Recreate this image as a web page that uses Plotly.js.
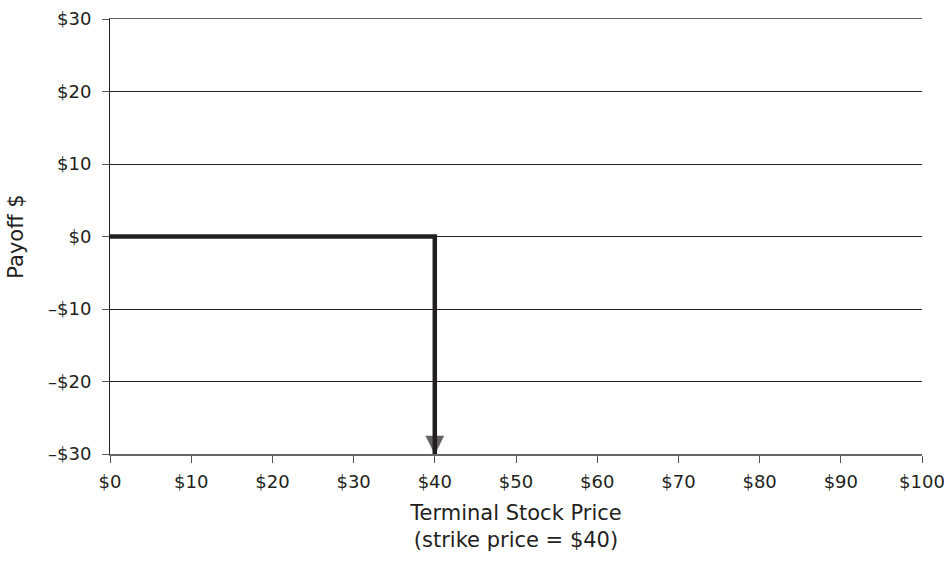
<!DOCTYPE html>
<html>
<head>
<meta charset="utf-8">
<script src="https://cdn.plot.ly/plotly-3.0.1.min.js"></script>
<style>html,body{margin:0;padding:0;background:#fff;}#chart{width:944px;height:561px;}</style>
</head>
<body>
<div id="chart"></div>
<script>
// Payoff line (terminal stock price vs payoff)
const priceX = [0, 40, 40];
const payoffY = [0, 0, -30];
const arrowSizes = [0, 0, 18];

const xTickVals = [0, 10, 20, 30, 40, 50, 60, 70, 80, 90, 100];
const xTickText = ['$0', '$10', '$20', '$30', '$40', '$50', '$60', '$70', '$80', '$90', '$100'];
const yTickVals = [-30, -20, -10, 0, 10, 20, 30];
const yTickText = ['\u2013$30', '\u2013$20', '\u2013$10', '$0', '$10', '$20', '$30'];

const ink = '#231f20';
const fam = 'DejaVu Sans, Liberation Sans, Arial, sans-serif';

const trace = {
  x: priceX,
  y: payoffY,
  mode: 'lines+markers',
  line: {color: ink, width: 4.5, backoff: 0},
  marker: {symbol: 'arrow-down', size: arrowSizes, color: ink, line: {width: 0.5, color: ink}},
  hoverinfo: 'skip',
  showlegend: false,
  cliponaxis: false
};

const layout = {
  width: 944, height: 561,
  margin: {l: 110, r: 22, t: 19, b: 107},
  paper_bgcolor: '#fff', plot_bgcolor: '#fff',
  font: {family: fam, color: ink},
  showlegend: false,
  xaxis: {
    range: [0, 100],
    tickvals: xTickVals, ticktext: xTickText,
    showgrid: false, zeroline: false,
    showline: true, linecolor: '#666', linewidth: 1.5, mirror: true,
    ticks: 'outside', ticklen: 7, tickcolor: '#555', tickwidth: 1,
    ticklabelstandoff: 4,
    ticklabeloverflow: 'allow',
    tickfont: {size: 18, family: fam, color: ink},
    title: {text: 'Terminal Stock Price<br>(strike price = $40)', font: {size: 21, family: fam, color: ink}, standoff: 14},
    fixedrange: true
  },
  yaxis: {
    range: [-30, 30],
    tickvals: yTickVals, ticktext: yTickText,
    showgrid: true, gridcolor: ink, gridwidth: 1,
    zeroline: false,
    showline: true, linecolor: ink, linewidth: 1,
    ticks: 'outside', ticklen: 7, tickcolor: '#555', tickwidth: 1,
    ticklabelstandoff: 7,
    ticklabeloverflow: 'allow',
    tickfont: {size: 18, family: fam, color: ink},
    title: {text: 'Payoff $', font: {size: 21, family: fam, color: ink}, standoff: 18},
    fixedrange: true
  }
};

Plotly.newPlot('chart', [trace], layout, {displayModeBar: false, staticPlot: true});
</script>
</body>
</html>
